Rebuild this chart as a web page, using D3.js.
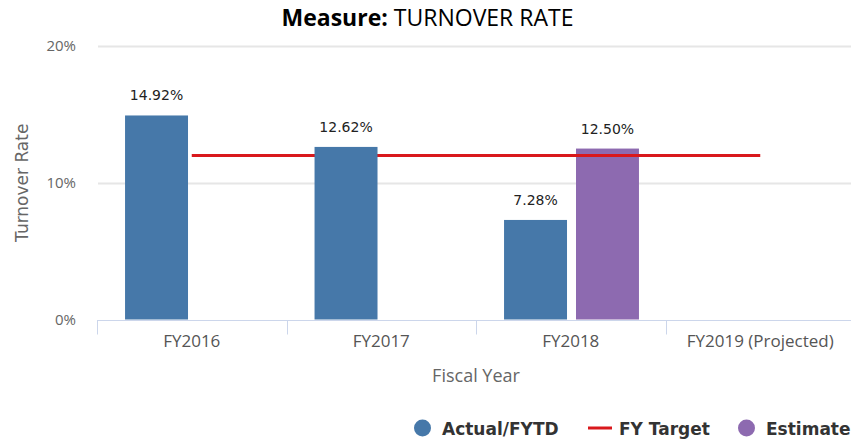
<!DOCTYPE html>
<html>
<head>
  <meta http-equiv="content-type" content="text/html; charset=UTF-8">
  <title>Turnover Rate</title>
  <script type='text/javascript' src="https://cdn.jsdelivr.net/npm/d3@7"></script>
  <style type='text/css'>
    body { margin: 0; background: #fff; }
    svg { display: block; }
    .narrow { font-family: 'Open Sans', sans-serif; }
    .dejavu { font-family: 'DejaVu Sans', sans-serif; }
  </style>
</head>
<body>

<div id="chart"></div>

<script type="text/javascript">

  // data
  var categories = ['FY2016', 'FY2017', 'FY2018', 'FY2019 (Projected)'];
  var actual     = [14.92, 12.62, 7.28, null];
  var estimate   = [null, null, 12.50, null];
  var target     = [12, 12, 12, 12];
  var yTicks     = [0, 10, 20];

  var w = 851,
      h = 440,
      margin = {top: 46, right: -4, bottom: 120.5, left: 97};

  var colors = {actual: '#4678a9', estimate: '#8d6ab0', target: '#d9181c'};

  var svg = d3.select('#chart').append('svg')
      .attr('width', w)
      .attr('height', h);

  var x0 = d3.scaleBand()
      .domain(categories)
      .range([margin.left, w - margin.right]);

  var x1 = d3.scaleBand()
      .domain(['actual', 'estimate'])
      .range([x0.bandwidth() * 0.148, x0.bandwidth() * 0.86])
      .paddingInner(0.125);

  var y = d3.scaleLinear()
      .domain([0, 20])
      .range([h - margin.bottom, margin.top]);

  // gridlines
  svg.selectAll('line.grid')
      .data(yTicks.filter(function(d){ return d > 0; }))
      .enter().append('line')
      .attr('class', 'grid')
      .attr('x1', margin.left + 1)
      .attr('x2', w)
      .attr('y1', function(d){ return Math.round(y(d)) + 0.5; })
      .attr('y2', function(d){ return Math.round(y(d)) + 0.5; })
      .style('stroke', '#e6e6e6')
      .style('stroke-width', 2);

  // y tick labels
  svg.selectAll('text.ytick')
      .data(yTicks)
      .enter().append('text')
      .attr('class', 'ytick narrow')
      .attr('x', 76)
      .attr('y', function(d){ return y(d) + 5; })
      .attr('text-anchor', 'end')
      .style('font-size', '15px')
      .style('fill', '#666')
      .text(function(d){ return d + '%'; });

  // x axis line + category ticks
  var gx = svg.append('g')
      .attr('transform', 'translate(0,' + (Math.round(y(0)) + 0.5) + ')');
  gx.append('line')
      .attr('x1', margin.left).attr('x2', w)
      .style('stroke', '#ccd6eb').style('stroke-width', 1);
  gx.selectAll('line.tk')
      .data(categories)
      .enter().append('line')
      .attr('class', 'tk')
      .attr('x1', function(d){ return Math.round(x0(d)) + 0.5; })
      .attr('x2', function(d){ return Math.round(x0(d)) + 0.5; })
      .attr('y1', 0).attr('y2', 14)
      .style('stroke', '#ccd6eb');

  // category labels
  svg.selectAll('text.cat')
      .data(categories)
      .enter().append('text')
      .attr('class', 'cat narrow')
      .attr('x', function(d){ return x0(d) + x0.bandwidth() / 2; })
      .attr('y', y(0) + 27)
      .attr('text-anchor', 'middle')
      .style('font-size', '17px')
      .style('fill', '#555')
      .text(function(d){ return d; });

  // axis titles
  svg.append('text')
      .attr('class', 'narrow')
      .attr('x', 476)
      .attr('y', y(0) + 62)
      .attr('text-anchor', 'middle')
      .style('font-size', '18px')
      .style('fill', '#666')
      .text('Fiscal Year');

  svg.append('text')
      .attr('class', 'dejavu')
      .attr('transform', 'translate(28,' + y(10) + ') rotate(-90)')
      .attr('text-anchor', 'middle')
      .style('font-size', '17px')
      .style('fill', '#666')
      .text('Turnover Rate');

  // title
  var title = svg.append('text')
      .attr('class', 'narrow')
      .attr('x', w / 2 + 2)
      .attr('y', 26)
      .attr('text-anchor', 'middle')
      .style('font-size', '23px')
      .style('fill', '#000');
  title.append('tspan').style('font-weight', 'bold').text('Measure:');
  title.append('tspan').text(' TURNOVER RATE');

  function barData(values, key){
    return categories.map(function(c, i){ return {cat: c, key: key, value: values[i]}; })
      .filter(function(d){ return d.value != null; });
  }

  function drawBars(values, key){
    svg.selectAll('rect.' + key)
        .data(barData(values, key))
        .enter().append('rect')
        .attr('class', key)
        .attr('x', function(d){ return x0(d.cat) + x1(d.key); })
        .attr('y', function(d){ return y(d.value); })
        .attr('width', x1.bandwidth())
        .attr('height', function(d){ return y(0) - y(d.value); })
        .style('fill', colors[key]);
  }

  function drawLabels(values, key){
    svg.selectAll('text.lbl-' + key)
        .data(barData(values, key))
        .enter().append('text')
        .attr('class', 'lbl-' + key + ' dejavu')
        .attr('x', function(d){ return x0(d.cat) + x1(d.key) + x1.bandwidth() / 2; })
        .attr('y', function(d){ return y(d.value) - 15; })
        .attr('text-anchor', 'middle')
        .style('font-size', '14px')
        .style('fill', '#222')
        .text(function(d){ return d.value.toFixed(2) + '%'; });
  }

  // purple under the target line, blue above it
  drawBars(estimate, 'estimate');

  var line = d3.line()
      .x(function(d, i){ return x0(categories[i]) + x0.bandwidth() / 2; })
      .y(function(d){ return y(d); });
  svg.append('path')
      .datum(target)
      .attr('d', line)
      .style('fill', 'none')
      .style('stroke', colors.target)
      .style('stroke-width', 3);

  drawBars(actual, 'actual');
  drawLabels(actual, 'actual');
  drawLabels(estimate, 'estimate');

  // legend
  var legendItems = [
    {name: 'Actual/FYTD', type: 'dot', color: colors.actual, x: 414},
    {name: 'FY Target', type: 'line', color: colors.target, x: 588},
    {name: 'Estimate', type: 'dot', color: colors.estimate, x: 738}
  ];
  var legend = svg.append('g').attr('transform', 'translate(0,428)');
  legendItems.forEach(function(item){
    var lx = item.x;
    if (item.type === 'dot') {
      legend.append('circle')
          .attr('cx', lx + 8.5).attr('cy', 0).attr('r', 8.5)
          .style('fill', item.color);
    } else {
      legend.append('line')
          .attr('x1', lx).attr('x2', lx + 24)
          .attr('y1', 0).attr('y2', 0)
          .style('stroke', item.color).style('stroke-width', 3);
    }
    legend.append('text')
        .attr('class', 'dejavu')
        .attr('x', lx + (item.type === 'dot' ? 28 : 31))
        .attr('y', 6.5)
        .style('font-size', '17px')
        .style('font-weight', 'bold')
        .style('fill', '#333')
        .text(item.name);
  });

</script>

</body>
</html>
